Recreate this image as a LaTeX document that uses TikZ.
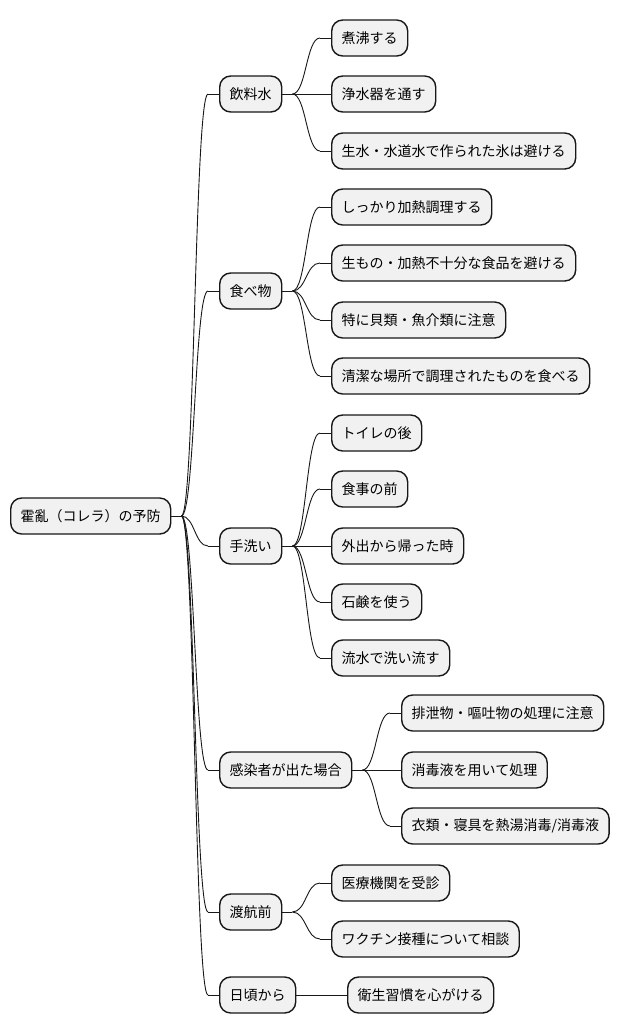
\documentclass[tikz,border=0pt]{standalone}
\usepackage{fontspec}
\newfontfamily\cjk{Noto Sans CJK JP}
\usetikzlibrary{calc}
\definecolor{lineC}{HTML}{181818}
\definecolor{fillC}{HTML}{F1F1F1}
\tikzset{
  box/.style={draw=lineC, fill=fillC, rounded corners=11pt, line width=1.4pt,
    minimum height=36pt, inner xsep=10pt, inner ysep=0pt, anchor=west,
    font=\cjk\fontsize{14pt}{16pt}\selectfont, text=black},
  edge/.style={draw=lineC, line width=0.9pt}
}
\newcommand\mylink[2]{%
  \draw[edge] (#1.east) -- ++(10,0) coordinate (s);
  \draw[edge] (#2.west) -- ++(-11,0) coordinate (t);
  \draw[edge] let \p1=(s), \p2=(t) in (s) .. controls ({(\x1+\x2)/2},\y1) and ({(\x1+\x2)/2},\y2) .. (t);
}
\begin{document}
\begin{tikzpicture}[x=1pt,y=-1pt]
\useasboundingbox (0,0) rectangle (619,1034);
\fill[white] (0,0) rectangle (619,1034);
\node[box] (r) at (10,516) {霍亂（コレラ）の予防};
\node[box] (a1) at (219,94) {飲料水};
\node[box] (a2) at (219,291) {食べ物};
\node[box] (a3) at (219,546) {手洗い};
\node[box] (a4) at (219,770) {感染者が出た場合};
\node[box] (a5) at (219,912) {渡航前};
\node[box] (a6) at (219,995) {日頃から};
% level 2
\node[box] (b11) at (331,38) {煮沸する};
\node[box] (b12) at (331,94) {浄水器を通す};
\node[box] (b13) at (331,151) {生水・水道水で作られた氷は避ける};
\node[box] (b21) at (331,207) {しっかり加熱調理する};
\node[box] (b22) at (331,263) {生もの・加熱不十分な食品を避ける};
\node[box] (b23) at (331,320) {特に貝類・魚介類に注意};
\node[box] (b24) at (331,376) {清潔な場所で調理されたものを食べる};
\node[box] (b31) at (331,433) {トイレの後};
\node[box] (b32) at (331,489) {食事の前};
\node[box] (b33) at (331,546) {外出から帰った時};
\node[box] (b34) at (331,602) {石鹸を使う};
\node[box] (b35) at (331,658) {流水で洗い流す};
\node[box] (b41) at (401,713) {排泄物・嘔吐物の処理に注意};
\node[box] (b42) at (401,770) {消毒液を用いて処理};
\node[box] (b43) at (401,826) {衣類・寝具を熱湯消毒/消毒液};
\node[box] (b51) at (331,883) {医療機関を受診};
\node[box] (b52) at (331,939) {ワクチン接種について相談};
\node[box] (b61) at (347,995) {衛生習慣を心がける};
% links
\mylink{r}{a1}\mylink{r}{a2}\mylink{r}{a3}\mylink{r}{a4}\mylink{r}{a5}\mylink{r}{a6}
\mylink{a1}{b11}\mylink{a1}{b12}\mylink{a1}{b13}
\mylink{a2}{b21}\mylink{a2}{b22}\mylink{a2}{b23}\mylink{a2}{b24}
\mylink{a3}{b31}\mylink{a3}{b32}\mylink{a3}{b33}\mylink{a3}{b34}\mylink{a3}{b35}
\mylink{a4}{b41}\mylink{a4}{b42}\mylink{a4}{b43}
\mylink{a5}{b51}\mylink{a5}{b52}
\draw[edge] (a6.east) -- (b61.west);
\end{tikzpicture}
\end{document}
